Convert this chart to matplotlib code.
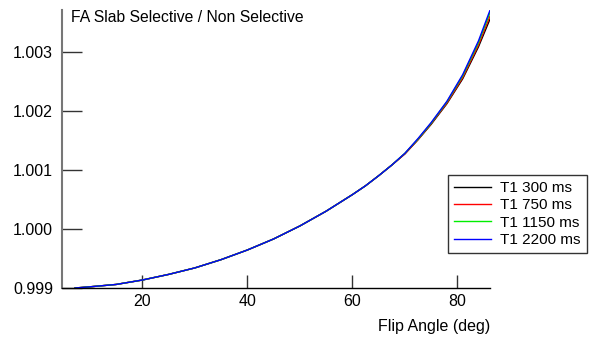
import numpy as np
import matplotlib
matplotlib.use("Agg")
import matplotlib.pyplot as plt

plt.rcParams['font.family'] = ['Liberation Sans', 'DejaVu Sans']

# flip angle (deg) and signal ratio
flip = [7.2, 10, 15, 20, 25, 30, 35, 40, 45, 50, 55, 60, 62.5, 65, 67.5, 70, 72.5, 75,
        78, 81, 84, 86.2]
ratio_2200 = [0.99900, 0.99902, 0.99906, 0.999135, 0.99923, 0.99934, 0.99948, 0.999643,
              0.99983, 1.00005, 1.00030, 1.00058, 1.00073, 1.00090, 1.00108, 1.00128,
              1.00153, 1.00180, 1.00216, 1.00261, 1.00318, 1.00370]
ratio_1150 = [0.99900, 0.99902, 0.99906, 0.999135, 0.99923, 0.99934, 0.99948, 0.999643,
              0.99983, 1.00005, 1.00030, 1.00058, 1.00073, 1.00090, 1.00108, 1.00128,
              1.00152, 1.00179, 1.00215, 1.00259, 1.00315, 1.00366]
ratio_750 = [0.99900, 0.99902, 0.99906, 0.999135, 0.99923, 0.99934, 0.99948, 0.999643,
             0.99983, 1.00005, 1.00030, 1.00058, 1.00073, 1.00090, 1.00108, 1.00127,
             1.00151, 1.00178, 1.00213, 1.00256, 1.00311, 1.00360]
ratio_300 = [0.99900, 0.99902, 0.99906, 0.999135, 0.99923, 0.99934, 0.99948, 0.999643,
             0.99983, 1.00005, 1.00030, 1.00058, 1.00073, 1.00090, 1.00108, 1.00127,
             1.00151, 1.00177, 1.00212, 1.00254, 1.00308, 1.00355]

series = [("T1 300 ms", ratio_300, "#000000"),
          ("T1 750 ms", ratio_750, "#ff0000"),
          ("T1 1150 ms", ratio_1150, "#00ee00"),
          ("T1 2200 ms", ratio_2200, "#0000ff")]

fig = plt.figure(figsize=(5.94, 3.37), dpi=100)
ax = fig.add_axes([62/594, 1 - 288/337, (490 - 62)/594, (288 - 10)/337])

for name, vals, col in series:
    ax.plot(flip, vals, color=col, lw=1.0, label=name)

ax.set_xlim(4.7, 86.2)
ax.set_ylim(0.999, 1.003704)
ax.set_xticks([20, 40, 60, 80])
ax.set_yticks([0.999, 1.000, 1.001, 1.002, 1.003])
ax.set_yticklabels(["0.999", "1.000", "1.001", "1.002", "1.003"])

ax.spines['top'].set_visible(False)
ax.spines['right'].set_visible(False)
ax.spines['left'].set_color('#777777')
ax.spines['left'].set_linewidth(1.5)
ax.spines['bottom'].set_linewidth(1.0)
ax.tick_params(axis='y', direction='in', length=14.5, width=1.0, color='#333333',
               labelsize=11.5, pad=6.5)
ax.tick_params(axis='x', direction='in', length=9.4, width=1.0, color='#333333',
               labelsize=11.5, pad=4.5)

ax.set_xlabel("Flip Angle (deg)", loc='right', fontsize=11.5, labelpad=7)
fig.text(71/594, 1 - 18/337, "FA Slab Selective / Non Selective", fontsize=11.3,
         va='center', ha='left')

leg = fig.legend(loc='upper right', bbox_to_anchor=(586.7/594, 1 - 175/337),
                 fontsize=11, frameon=True, fancybox=False, handlelength=2.4,
                 handletextpad=0.6, labelspacing=0.22, borderpad=0.4,
                 borderaxespad=0)
leg.get_frame().set_edgecolor('black')
leg.get_frame().set_linewidth(1.0)

fig.savefig("out.png", dpi=100)
